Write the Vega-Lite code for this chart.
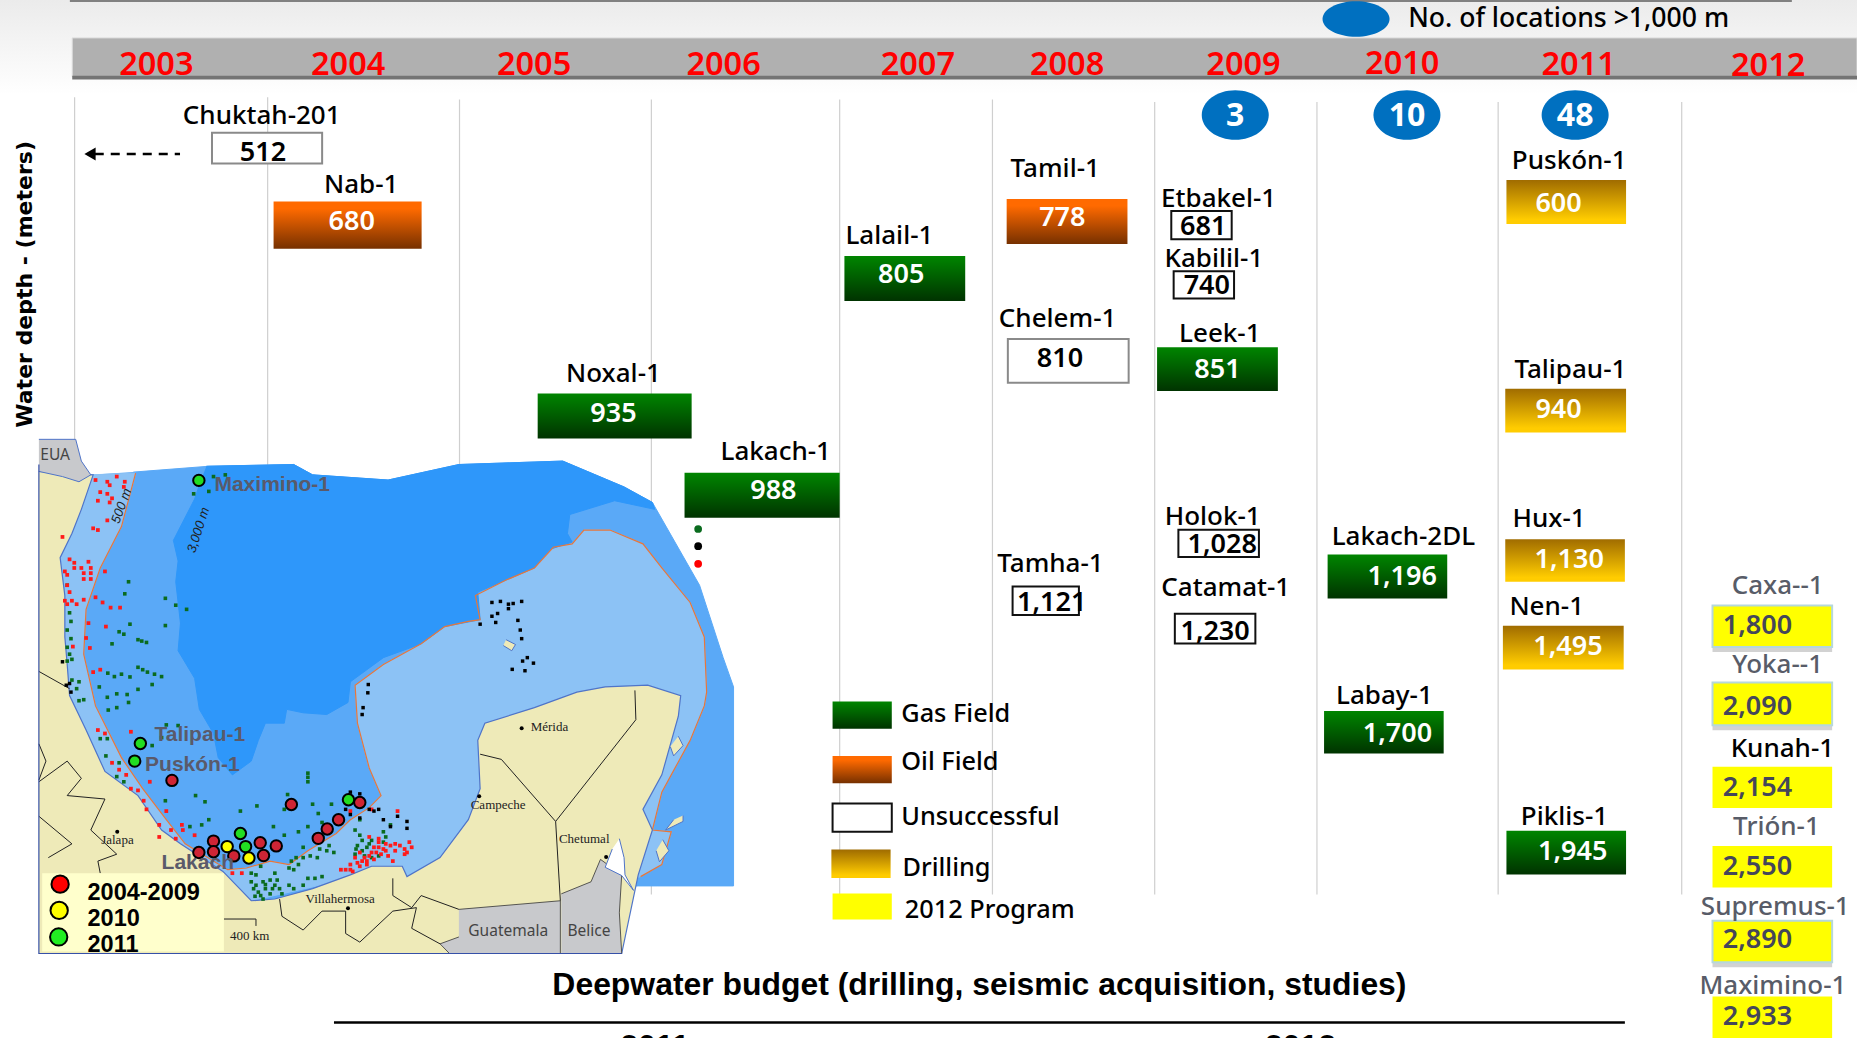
{"$schema":"https://vega.github.io/schema/vega-lite/v6.json","width":1857,"height":1038,"padding":0,"autosize":"none","background":"white","config":{"view":{"stroke":null}},
"datasets":{
"fade":[{"x":0,"x2":1568,"y":0,"y2":80}],
"band":[{"x":61,"x2":1568,"y":32,"y2":65}],
"bandEdge":[{"x":61,"x2":1568,"y":64,"y2":67}],
"topRule":[{"x":59,"x2":1513,"y":0.6}],
"grid":[{"x":63,"y":82,"y2":755},{"x":226,"y":82,"y2":755},{"x":388,"y":84,"y2":755},{"x":550,"y":84,"y2":755},{"x":709,"y":84,"y2":755},{"x":838,"y":84,"y2":755},{"x":975,"y":86,"y2":755},{"x":1112,"y":86,"y2":755},{"x":1265,"y":86,"y2":755},{"x":1420,"y":86,"y2":755}],
"years":[{"t":"2003","x":132,"y":54},{"t":"2004","x":294,"y":54},{"t":"2005","x":451,"y":54},{"t":"2006","x":611,"y":54},{"t":"2007","x":775,"y":54},{"t":"2008","x":901,"y":54},{"t":"2009","x":1050,"y":54},{"t":"2010","x":1184,"y":53},{"t":"2011","x":1333,"y":54},{"t":"2012","x":1493,"y":55}],
"wells":[
{"well":"Chuktah-201","value":"512","kind":"dryGrey","x":179,"x2":272,"y":112,"y2":138,"lx":221,"ly":97,"vx":222,"vy":128},
{"well":"Nab-1","value":"680","kind":"oil","x":231,"x2":356,"y":170,"y2":210,"lx":305,"ly":155,"vx":297,"vy":186},
{"well":"Noxal-1","value":"935","kind":"gas","x":454,"x2":584,"y":332,"y2":370,"lx":518,"ly":314,"vx":518,"vy":348},
{"well":"Lakach-1","value":"988","kind":"gas","x":578,"x2":709,"y":399,"y2":437,"lx":655,"ly":380,"vx":653,"vy":413},
{"well":"Lalail-1","value":"805","kind":"gas","x":713,"x2":815,"y":216,"y2":254,"lx":751,"ly":198,"vx":761,"vy":231},
{"well":"Tamil-1","value":"778","kind":"oil","x":850,"x2":952,"y":168,"y2":206,"lx":891,"ly":141,"vx":897,"vy":183},
{"well":"Chelem-1","value":"810","kind":"dryGrey","x":851,"x2":953,"y":286,"y2":323,"lx":893,"ly":268,"vx":895,"vy":302},
{"well":"Tamha-1","value":"1,121","kind":"dry","x":855,"x2":911,"y":495,"y2":519,"lx":887,"ly":475,"vx":888,"vy":508},
{"well":"Etbakel-1","value":"681","kind":"dry","x":989,"x2":1040,"y":178,"y2":202,"lx":1029,"ly":167,"vx":1016,"vy":190},
{"well":"Kabilil-1","value":"740","kind":"dry","x":991,"x2":1042,"y":229,"y2":252,"lx":1025,"ly":217,"vx":1019,"vy":240},
{"well":"Leek-1","value":"851","kind":"gas","x":977,"x2":1079,"y":293,"y2":330,"lx":1030,"ly":281,"vx":1028,"vy":311},
{"well":"Holok-1","value":"1,028","kind":"dry","x":995,"x2":1063,"y":447,"y2":470,"lx":1024,"ly":435,"vx":1032,"vy":459},
{"well":"Catamat-1","value":"1,230","kind":"dry","x":992,"x2":1060,"y":518,"y2":543,"lx":1035,"ly":495,"vx":1026,"vy":532},
{"well":"Lakach-2DL","value":"1,196","kind":"gas","x":1121,"x2":1222,"y":468,"y2":505,"lx":1185,"ly":452,"vx":1184,"vy":486},
{"well":"Labay-1","value":"1,700","kind":"gas","x":1118,"x2":1219,"y":600,"y2":636,"lx":1169,"ly":586,"vx":1180,"vy":618},
{"well":"Puskón-1","value":"600","kind":"drilling","x":1272,"x2":1373,"y":152,"y2":189,"lx":1325,"ly":135,"vx":1316,"vy":171},
{"well":"Talipau-1","value":"940","kind":"drilling","x":1271,"x2":1373,"y":328,"y2":365,"lx":1326,"ly":311,"vx":1316,"vy":345},
{"well":"Hux-1","value":"1,130","kind":"drilling","x":1271,"x2":1372,"y":455,"y2":491,"lx":1308,"ly":437,"vx":1325,"vy":471},
{"well":"Nen-1","value":"1,495","kind":"drilling","x":1269,"x2":1371,"y":528,"y2":565,"lx":1306,"ly":511,"vx":1324,"vy":545},
{"well":"Piklis-1","value":"1,945","kind":"gas","x":1272,"x2":1373,"y":701,"y2":738,"lx":1321,"ly":688,"vx":1328,"vy":718},
{"well":"Caxa--1","value":"1,800","kind":"program","x":1446,"x2":1547,"y":511,"y2":546,"lx":1501,"ly":493,"vx":1484,"vy":527},
{"well":"Yoka--1","value":"2,090","kind":"program","x":1446,"x2":1547,"y":576,"y2":612,"lx":1501,"ly":560,"vx":1484,"vy":595},
{"well":"Kunah-1","value":"2,154","kind":"program","x":1446,"x2":1547,"y":647,"y2":682,"lx":1505,"ly":631,"vx":1484,"vy":664},
{"well":"Trión-1","value":"2,550","kind":"program","x":1446,"x2":1547,"y":714,"y2":749,"lx":1500,"ly":697,"vx":1484,"vy":730},
{"well":"Supremus-1","value":"2,890","kind":"program","x":1446,"x2":1547,"y":777,"y2":812,"lx":1499,"ly":764,"vx":1484,"vy":792},
{"well":"Maximino-1","value":"2,933","kind":"program","x":1446,"x2":1547,"y":841,"y2":880,"lx":1497,"ly":831,"vx":1484,"vy":857}],
"badges":[{"n":"3","x":1043,"y":97},{"n":"10","x":1188,"y":97},{"n":"48","x":1330,"y":97}],
"legendKey":[{"kind":"gas","x":703,"x2":753,"y":592,"y2":615},{"kind":"oil","x":703,"x2":753,"y":638,"y2":661},{"kind":"dry","x":703,"x2":753,"y":678,"y2":702},{"kind":"drilling","x":702,"x2":752,"y":717,"y2":741},{"kind":"program","x":703,"x2":753,"y":754,"y2":776}],
"legendText":[{"t":"Gas Field","x":761,"y":601},{"t":"Oil Field","x":761,"y":642},{"t":"Unsuccessful","x":761,"y":688},{"t":"Drilling","x":762,"y":731},{"t":"2012 Program","x":764,"y":767}],
"keyNote":[{"t":"No. of locations >1,000 m","x":1189,"y":15}],
"arrow":[{"x":80,"y":130},{"x":152,"y":130}],
"arrowHead":[{"x":76,"y":130}],
"blueKey":[{"x":1145,"y":16}],
"budgetRule":[{"x":282,"x2":1372,"y":863}],
"budget":[{"t":"Deepwater budget (drilling, seismic acquisition, studies)","x":827,"y":830}],
"budgetYears":[{"t":"2011","x":553,"y":884},{"t":"2012","x":1098,"y":884}],
"yTitle":[{"t":"Water depth - (meters)","x":21,"y":240}],
"sea":[{"x":150,"y":130},{"x":130,"y":230},{"x":110,"y":300},{"x":85,"y":370},{"x":95,"y":480},{"x":95,"y":600},{"x":100,"y":680},{"x":105,"y":770},{"x":140,"y":870},{"x":180,"y":990},{"x":250,"y":1060},{"x":300,"y":1160},{"x":340,"y":1200},{"x":430,"y":1280},{"x":490,"y":1365},{"x":1310,"y":1322},{"x":1350,"y":1322},{"x":1512,"y":1322},{"x":1512,"y":745},{"x":1490,"y":660},{"x":1440,"y":450},{"x":1340,"y":210},{"x":1280,"y":165},{"x":1150,"y":90},{"x":930,"y":100},{"x":780,"y":145},{"x":620,"y":130},{"x":580,"y":100},{"x":400,"y":105},{"x":240,"y":122}],
"deep":[{"x":395,"y":105},{"x":580,"y":100},{"x":620,"y":130},{"x":780,"y":145},{"x":930,"y":100},{"x":1150,"y":90},{"x":1280,"y":165},{"x":1340,"y":210},{"x":1345,"y":230},{"x":1260,"y":205},{"x":1165,"y":245},{"x":1160,"y":300},{"x":1170,"y":325},{"x":1125,"y":345},{"x":1090,"y":400},{"x":1030,"y":435},{"x":970,"y":470},{"x":975,"y":550},{"x":900,"y":570},{"x":850,"y":620},{"x":770,"y":660},{"x":700,"y":730},{"x":695,"y":790},{"x":650,"y":825},{"x":600,"y":820},{"x":565,"y":810},{"x":560,"y":850},{"x":520,"y":850},{"x":505,"y":900},{"x":490,"y":960},{"x":450,"y":1000},{"x":420,"y":950},{"x":410,"y":880},{"x":380,"y":810},{"x":370,"y":720},{"x":335,"y":640},{"x":340,"y":560},{"x":330,"y":440},{"x":335,"y":380},{"x":325,"y":320},{"x":370,"y":200},{"x":385,"y":140}],
"shelf":[{"x":150,"y":130},{"x":245,"y":125},{"x":215,"y":280},{"x":170,"y":400},{"x":140,"y":520},{"x":135,"y":650},{"x":160,"y":800},{"x":215,"y":950},{"x":260,"y":1040},{"x":310,"y":1130},{"x":350,"y":1200},{"x":440,"y":1275},{"x":480,"y":1270},{"x":530,"y":1250},{"x":570,"y":1260},{"x":610,"y":1220},{"x":670,"y":1170},{"x":700,"y":1130},{"x":740,"y":1095},{"x":765,"y":1060},{"x":740,"y":980},{"x":715,"y":850},{"x":710,"y":740},{"x":770,"y":680},{"x":850,"y":620},{"x":900,"y":570},{"x":950,"y":555},{"x":975,"y":550},{"x":965,"y":480},{"x":1030,"y":435},{"x":1090,"y":400},{"x":1130,"y":340},{"x":1170,"y":330},{"x":1195,"y":290},{"x":1250,"y":290},{"x":1320,"y":330},{"x":1360,"y":400},{"x":1420,"y":500},{"x":1450,"y":600},{"x":1455,"y":760},{"x":1450,"y":800},{"x":1420,"y":900},{"x":1380,"y":1000},{"x":1360,"y":1050},{"x":1340,"y":1160},{"x":1380,"y":1165},{"x":1360,"y":1260},{"x":1315,"y":1295},{"x":1300,"y":1300},{"x":700,"y":1300},{"x":490,"y":1365},{"x":430,"y":1280},{"x":340,"y":1200},{"x":300,"y":1160},{"x":250,"y":1060},{"x":180,"y":990},{"x":140,"y":870},{"x":105,"y":770},{"x":100,"y":680},{"x":95,"y":600},{"x":95,"y":480},{"x":85,"y":370},{"x":110,"y":300},{"x":130,"y":230}],
"orange":[{"x":245,"y":125},{"x":215,"y":280},{"x":170,"y":400},{"x":140,"y":520},{"x":135,"y":650},{"x":160,"y":800},{"x":215,"y":950},{"x":260,"y":1040},{"x":310,"y":1130},{"x":350,"y":1200},{"x":440,"y":1275},{"x":480,"y":1270},{"x":530,"y":1250},{"x":570,"y":1260},{"x":610,"y":1220},{"x":670,"y":1170},{"x":700,"y":1130},{"x":740,"y":1095},{"x":765,"y":1060},{"x":740,"y":980},{"x":715,"y":850},{"x":710,"y":740},{"x":770,"y":680},{"x":850,"y":620},{"x":900,"y":570},{"x":950,"y":555},{"x":975,"y":550},{"x":965,"y":480},{"x":1030,"y":435},{"x":1090,"y":400},{"x":1130,"y":340},{"x":1170,"y":330},{"x":1195,"y":290},{"x":1250,"y":290},{"x":1320,"y":330},{"x":1360,"y":400},{"x":1420,"y":500},{"x":1450,"y":600},{"x":1455,"y":760},{"x":1450,"y":800},{"x":1420,"y":900},{"x":1380,"y":1000},{"x":1360,"y":1050},{"x":1340,"y":1160},{"x":1380,"y":1165},{"x":1360,"y":1260},{"x":1315,"y":1295}],
"land":[{"x":40,"y":120},{"x":155,"y":130},{"x":130,"y":230},{"x":110,"y":300},{"x":85,"y":370},{"x":95,"y":480},{"x":95,"y":600},{"x":100,"y":680},{"x":105,"y":770},{"x":140,"y":870},{"x":180,"y":990},{"x":250,"y":1060},{"x":300,"y":1160},{"x":340,"y":1200},{"x":430,"y":1280},{"x":490,"y":1365},{"x":540,"y":1360},{"x":620,"y":1330},{"x":700,"y":1290},{"x":745,"y":1265},{"x":810,"y":1265},{"x":820,"y":1295},{"x":890,"y":1240},{"x":950,"y":1130},{"x":975,"y":1040},{"x":970,"y":900},{"x":985,"y":850},{"x":1090,"y":805},{"x":1180,"y":760},{"x":1240,"y":745},{"x":1330,"y":740},{"x":1400,"y":770},{"x":1395,"y":830},{"x":1360,"y":1000},{"x":1320,"y":1100},{"x":1340,"y":1160},{"x":1310,"y":1290},{"x":1275,"y":1518},{"x":40,"y":1518}],
"usa":[{"x":40,"y":27},{"x":118,"y":27},{"x":130,"y":90},{"x":150,"y":130},{"x":125,"y":150},{"x":90,"y":135},{"x":40,"y":120}],
"guatemala":[{"x":930,"y":1390},{"x":1145,"y":1365},{"x":1145,"y":1518},{"x":910,"y":1518},{"x":890,"y":1490},{"x":930,"y":1470}],
"belice":[{"x":1147,"y":1345},{"x":1210,"y":1310},{"x":1230,"y":1245},{"x":1275,"y":1290},{"x":1270,"y":1400},{"x":1275,"y":1518},{"x":1147,"y":1518}],
"bay":[{"x":1270,"y":1185},{"x":1280,"y":1240},{"x":1282,"y":1290},{"x":1300,"y":1335},{"x":1275,"y":1292},{"x":1240,"y":1268},{"x":1255,"y":1215}],
"islands":[{"id":"a","x":1030,"y":608},{"id":"a","x":1050,"y":622},{"id":"a","x":1042,"y":640},{"id":"a","x":1024,"y":625},{"id":"b","x":1395,"y":888},{"id":"b","x":1405,"y":915},{"id":"b","x":1385,"y":945},{"id":"b","x":1378,"y":918},{"id":"c","x":1362,"y":1188},{"id":"c","x":1375,"y":1220},{"id":"c","x":1355,"y":1252},{"id":"c","x":1348,"y":1220},{"id":"d","x":1405,"y":1118},{"id":"d","x":1405,"y":1135},{"id":"d","x":1368,"y":1160},{"id":"d","x":1385,"y":1130}],
"borders":[{"id":"a","x":975,"y":940},{"id":"a","x":1020,"y":955},{"id":"a","x":1135,"y":1135},{"id":"a","x":1305,"y":840},{"id":"a","x":1303,"y":755},{"id":"b","x":1135,"y":1135},{"id":"b","x":1145,"y":1365},{"id":"c","x":550,"y":1360},{"id":"c","x":555,"y":1410},{"id":"c","x":600,"y":1450},{"id":"c","x":640,"y":1395},{"id":"c","x":690,"y":1395},{"id":"c","x":690,"y":1460},{"id":"c","x":720,"y":1485},{"id":"c","x":790,"y":1395},{"id":"c","x":840,"y":1385},{"id":"c","x":830,"y":1445},{"id":"c","x":890,"y":1490},{"id":"d","x":790,"y":1300},{"id":"d","x":790,"y":1350},{"id":"d","x":830,"y":1385},{"id":"d","x":850,"y":1350},{"id":"d","x":930,"y":1390},{"id":"e","x":40,"y":700},{"id":"e","x":105,"y":750},{"id":"f","x":40,"y":910},{"id":"f","x":55,"y":960},{"id":"f","x":40,"y":1015},{"id":"g","x":40,"y":1020},{"id":"g","x":100,"y":960},{"id":"g","x":130,"y":1010},{"id":"g","x":100,"y":1060},{"id":"g","x":180,"y":1070},{"id":"g","x":150,"y":1160},{"id":"g","x":205,"y":1230},{"id":"g","x":165,"y":1250},{"id":"g","x":170,"y":1285},{"id":"h","x":40,"y":1120},{"id":"h","x":110,"y":1200},{"id":"h","x":60,"y":1240},{"id":"i","x":432,"y":1418},{"id":"i","x":500,"y":1418},{"id":"i","x":500,"y":1438}],
"mapFrame":[{"x":40,"y":100},{"x":40,"y":1518},{"x":1275,"y":1518}],
"keyBox":[{"x":47,"x2":432,"y":1285,"y2":1512}],
"gasDots":[{"x":230,"y":440},{"x":222,"y":475},{"x":308,"y":488},{"x":330,"y":508},{"x":353,"y":520},{"x":210,"y":585},{"x":220,"y":592},{"x":233,"y":563},{"x":308,"y":567},{"x":250,"y":608},{"x":258,"y":612},{"x":268,"y":616},{"x":195,"y":620},{"x":250,"y":688},{"x":260,"y":695},{"x":270,"y":702},{"x":285,"y":708},{"x":300,"y":715},{"x":215,"y":708},{"x":200,"y":715},{"x":233,"y":716},{"x":186,"y":705},{"x":168,"y":745},{"x":185,"y":775},{"x":205,"y":765},{"x":227,"y":767},{"x":205,"y":805},{"x":187,"y":812},{"x":230,"y":790},{"x":280,"y":738},{"x":250,"y":752},{"x":100,"y":450},{"x":105,"y":530},{"x":108,"y":555},{"x":100,"y":580},{"x":108,"y":605},{"x":100,"y":630},{"x":105,"y":650},{"x":110,"y":665},{"x":100,"y":670},{"x":110,"y":725},{"x":125,"y":730},{"x":120,"y":750},{"x":125,"y":785},{"x":135,"y":782},{"x":170,"y":895},{"x":185,"y":895},{"x":280,"y":915},{"x":300,"y":892},{"x":310,"y":855},{"x":335,"y":857},{"x":410,"y":135},{"x":435,"y":130},{"x":400,"y":178},{"x":368,"y":185},{"x":610,"y":995},{"x":610,"y":1007},{"x":610,"y":1020},{"x":372,"y":1060},{"x":392,"y":1078},{"x":308,"y":1075},{"x":502,"y":1090},{"x":467,"y":1105},{"x":567,"y":1057},{"x":620,"y":1085},{"x":632,"y":1112},{"x":660,"y":1085},{"x":537,"y":1150},{"x":360,"y":1150},{"x":385,"y":1145},{"x":400,"y":1130},{"x":210,"y":965},{"x":205,"y":1005},{"x":220,"y":1020},{"x":182,"y":945},{"x":560,"y":1100},{"x":590,"y":1165},{"x":560,"y":1175},{"x":640,"y":1138},{"x":610,"y":1150},{"x":500,"y":1290},{"x":520,"y":1330},{"x":510,"y":1350},{"x":540,"y":1320},{"x":490,"y":1310},{"x":530,"y":1345},{"x":550,"y":1330},{"x":500,"y":1320},{"x":515,"y":1310},{"x":580,"y":1330},{"x":600,"y":1320},{"x":625,"y":1300},{"x":580,"y":1275},{"x":575,"y":1250},{"x":600,"y":1240},{"x":630,"y":1240},{"x":650,"y":1220},{"x":665,"y":1225},{"x":600,"y":1210},{"x":540,"y":1285},{"x":720,"y":1130},{"x":710,"y":1160},{"x":720,"y":1175},{"x":715,"y":1205},{"x":740,"y":1200},{"x":730,"y":1235},{"x":710,"y":1230},{"x":770,"y":1165},{"x":785,"y":1145},{"x":770,"y":1195},{"x":745,"y":1190},{"x":510,"y":1265},{"x":490,"y":1285},{"x":635,"y":1215},{"x":590,"y":1260},{"x":495,"y":1330},{"x":505,"y":1340},{"x":520,"y":1318},{"x":530,"y":1305},{"x":545,"y":1305},{"x":555,"y":1345},{"x":515,"y":1360},{"x":498,"y":1352},{"x":535,"y":1330},{"x":570,"y":1320},{"x":610,"y":1300},{"x":640,"y":1295},{"x":615,"y":1235},{"x":585,"y":1240},{"x":570,"y":1270},{"x":655,"y":1205},{"x":725,"y":1220},{"x":735,"y":1210},{"x":745,"y":1240},{"x":712,"y":1215},{"x":760,"y":1235},{"x":725,"y":1190},{"x":775,"y":1180}],
"oilDots":[{"x":160,"y":145},{"x":185,"y":150},{"x":205,"y":135},{"x":222,"y":150},{"x":190,"y":160},{"x":170,"y":180},{"x":185,"y":185},{"x":195,"y":198},{"x":165,"y":205},{"x":190,"y":210},{"x":220,"y":165},{"x":185,"y":262},{"x":155,"y":285},{"x":165,"y":290},{"x":90,"y":310},{"x":105,"y":375},{"x":115,"y":385},{"x":145,"y":382},{"x":95,"y":410},{"x":115,"y":400},{"x":130,"y":400},{"x":150,"y":400},{"x":135,"y":415},{"x":150,"y":415},{"x":100,"y":420},{"x":135,"y":432},{"x":150,"y":432},{"x":180,"y":410},{"x":100,"y":450},{"x":105,"y":470},{"x":95,"y":495},{"x":110,"y":495},{"x":135,"y":492},{"x":100,"y":505},{"x":120,"y":505},{"x":160,"y":485},{"x":175,"y":500},{"x":192,"y":515},{"x":212,"y":515},{"x":145,"y":560},{"x":182,"y":570},{"x":140,"y":603},{"x":148,"y":632},{"x":112,"y":628},{"x":155,"y":702},{"x":170,"y":695},{"x":165,"y":870},{"x":180,"y":880},{"x":235,"y":875},{"x":195,"y":965},{"x":210,"y":985},{"x":225,"y":1000},{"x":235,"y":1040},{"x":250,"y":1045},{"x":275,"y":1020},{"x":262,"y":1075},{"x":268,"y":1100},{"x":310,"y":1105},{"x":295,"y":1145},{"x":320,"y":1160},{"x":295,"y":1180},{"x":343,"y":1145},{"x":345,"y":1160},{"x":370,"y":1175},{"x":330,"y":1185},{"x":450,"y":1285},{"x":470,"y":1285},{"x":680,"y":1275},{"x":700,"y":1260},{"x":710,"y":1240},{"x":730,"y":1240},{"x":745,"y":1225},{"x":760,"y":1210},{"x":775,"y":1200},{"x":795,"y":1220},{"x":815,"y":1215},{"x":825,"y":1195},{"x":740,"y":1180},{"x":760,"y":1185},{"x":780,"y":1235},{"x":800,"y":1105},{"x":720,"y":1265},{"x":735,"y":1260},{"x":750,"y":1245},{"x":770,"y":1215},{"x":720,"y":1225},{"x":830,"y":1210},{"x":790,"y":1250},{"x":690,"y":1275},{"x":705,"y":1280},{"x":815,"y":1230},{"x":745,"y":1100},{"x":700,"y":1105},{"x":755,"y":1225},{"x":765,"y":1230},{"x":775,"y":1220},{"x":785,"y":1205},{"x":805,"y":1205},{"x":735,"y":1250},{"x":715,"y":1255},{"x":760,"y":1195},{"x":750,"y":1210},{"x":740,"y":1235},{"x":725,"y":1250},{"x":700,"y":1275},{"x":795,"y":1200},{"x":820,"y":1225}],
"dryDots":[{"x":1000,"y":500},{"x":1018,"y":497},{"x":1035,"y":505},{"x":1063,"y":497},{"x":1045,"y":503},{"x":1035,"y":518},{"x":1000,"y":540},{"x":1012,"y":532},{"x":1055,"y":552},{"x":1008,"y":558},{"x":1060,"y":580},{"x":975,"y":563},{"x":1063,"y":605},{"x":1075,"y":660},{"x":1065,"y":670},{"x":1088,"y":676},{"x":1043,"y":694},{"x":1070,"y":698},{"x":738,"y":738},{"x":737,"y":762},{"x":727,"y":805},{"x":725,"y":825},{"x":700,"y":1050},{"x":720,"y":1055},{"x":690,"y":1100},{"x":720,"y":1125},{"x":750,"y":1105},{"x":770,"y":1130},{"x":800,"y":1120},{"x":820,"y":1135},{"x":785,"y":1150},{"x":820,"y":1155},{"x":105,"y":735},{"x":90,"y":672},{"x":108,"y":760},{"x":98,"y":740},{"x":715,"y":1070},{"x":740,"y":1100},{"x":760,"y":1100},{"x":700,"y":1115}],
"bigRed":[{"x":322,"y":1016},{"x":575,"y":1086},{"x":720,"y":1080},{"x":675,"y":1130},{"x":651,"y":1157},{"x":632,"y":1184},{"x":410,"y":1192},{"x":509,"y":1197},{"x":543,"y":1206},{"x":379,"y":1225},{"x":410,"y":1223},{"x":453,"y":1235},{"x":516,"y":1234}],
"bigYellow":[{"x":439,"y":1208},{"x":485,"y":1241}],
"bigGreen":[{"x":379,"y":146},{"x":255,"y":909},{"x":243,"y":960},{"x":467,"y":1170},{"x":478,"y":1208},{"x":696,"y":1072}],
"keyRed":[{"x":85,"y":1317}],"keyYellow":[{"x":83,"y":1393}],"keyGreen":[{"x":82,"y":1470}],
"smallGreen":[{"x":1437,"y":287}],"smallBlack":[{"x":1437,"y":337}],"smallRed":[{"x":1437,"y":388}],
"cities":[{"x":1063,"y":865},{"x":973,"y":1062},{"x":1242,"y":1238},{"x":206,"y":1165},{"x":695,"y":1387}],
"cityNames":[{"t":"Mérida","x":1082,"y":860},{"t":"Campeche","x":955,"y":1088},{"t":"Chetumal","x":1142,"y":1185},{"t":"Jalapa","x":172,"y":1188},{"t":"Villahermosa","x":605,"y":1360},{"t":"400 km","x":445,"y":1466}],
"countries":[{"t":"Guatemala","x":950,"y":1452},{"t":"Belice","x":1160,"y":1452},{"t":"EUA","x":43,"y":72}],
"mapWells":[{"t":"Maximino-1","x":412,"y":160},{"t":"Talipau-1","x":285,"y":885},{"t":"Puskón-1","x":265,"y":970},{"t":"Lakach","x":300,"y":1255}],
"keyText":[{"t":"2004-2009","x":143,"y":1342},{"t":"2010","x":143,"y":1417},{"t":"2011","x":143,"y":1493}],
"iso500":[{"t":"500 m","x":215,"y":220}],"iso3000":[{"t":"3,000 m","x":378,"y":290}]
},
"resolve":{"scale":{"x":"independent","y":"independent"}},
"layer":[
{"encoding":{"x":{"field":"x","type":"quantitative","axis":null,"scale":{"domain":[0,1568],"range":[0,1857],"nice":false,"zero":false}},"y":{"field":"y","type":"quantitative","axis":null,"scale":{"domain":[0,876],"range":[0,1038],"nice":false,"zero":false}}},
"layer":[
{"data":{"name":"fade"},"mark":{"type":"rect","fill":{"gradient":"linear","x1":0,"y1":0,"x2":0,"y2":1,"stops":[{"offset":0,"color":"#ebebeb"},{"offset":1,"color":"#ffffff"}]}},"encoding":{"x2":{"field":"x2"},"y2":{"field":"y2"}}},
{"data":{"name":"topRule"},"mark":{"type":"rule","color":"#808080","strokeWidth":2.5},"encoding":{"x2":{"field":"x2"}}},
{"data":{"name":"band"},"mark":{"type":"rect","fill":"#b0b0b0","stroke":"#dcdcdc","strokeWidth":1},"encoding":{"x2":{"field":"x2"},"y2":{"field":"y2"}}},
{"data":{"name":"bandEdge"},"mark":{"type":"rect","fill":"#747474"},"encoding":{"x2":{"field":"x2"},"y2":{"field":"y2"}}},
{"data":{"name":"grid"},"mark":{"type":"rule","color":"#cfcfcf","strokeWidth":1.2},"encoding":{"y2":{"field":"y2"}}}
]},
{"encoding":{"x":{"field":"x","type":"quantitative","axis":null,"scale":{"domain":[-42.4,3892.6],"range":[0,1857],"nice":false,"zero":false}},"y":{"field":"y","type":"quantitative","axis":null,"scale":{"domain":[-1247,1763],"range":[0,1038],"nice":false,"zero":false}}},
"layer":[
{"data":{"name":"sea"},"mark":{"type":"line","order":false,"fill":"#5aa9f7","stroke":"#5aa9f7","strokeWidth":1}},
{"data":{"name":"shelf"},"mark":{"type":"line","order":false,"fill":"#8cc2f5","stroke":"#8cc2f5","strokeWidth":1}},
{"data":{"name":"deep"},"mark":{"type":"line","order":false,"fill":"#2e97fa","stroke":"#2e97fa","strokeWidth":1}},
{"data":{"name":"orange"},"mark":{"type":"line","order":false,"stroke":"#e8763a","strokeWidth":1.2}},
{"data":{"name":"land"},"mark":{"type":"line","order":false,"fill":"#eeeab8","stroke":"#4f74c8","strokeWidth":1.2}},
{"data":{"name":"islands"},"mark":{"type":"line","order":false,"fill":"#eeeab8","stroke":"#4f74c8","strokeWidth":1},"encoding":{"detail":{"field":"id"}}},
{"data":{"name":"usa"},"mark":{"type":"line","order":false,"fill":"#c8c9cc","stroke":"#4f74c8","strokeWidth":1}},
{"data":{"name":"guatemala"},"mark":{"type":"line","order":false,"fill":"#c8c9cc","stroke":"#333333","strokeWidth":0.8}},
{"data":{"name":"belice"},"mark":{"type":"line","order":false,"fill":"#c8c9cc","stroke":"#333333","strokeWidth":0.8}},
{"data":{"name":"bay"},"mark":{"type":"line","order":false,"fill":"#ffffff","stroke":"#4f74c8","strokeWidth":1}},
{"data":{"name":"borders"},"mark":{"type":"line","order":false,"stroke":"#222222","strokeWidth":1},"encoding":{"detail":{"field":"id"}}},
{"data":{"name":"mapFrame"},"mark":{"type":"line","order":false,"stroke":"#3650a8","strokeWidth":1.2}},
{"data":{"name":"gasDots"},"mark":{"type":"square","color":"#0a6b1e","size":13,"opacity":1}},
{"data":{"name":"oilDots"},"mark":{"type":"square","color":"#ff1a1a","size":14,"opacity":1}},
{"data":{"name":"dryDots"},"mark":{"type":"square","color":"#000000","size":12,"opacity":1}},
{"data":{"name":"cities"},"mark":{"type":"circle","color":"#000000","size":16,"opacity":1}},
{"data":{"name":"cityNames"},"mark":{"type":"text","font":"Liberation Serif","fontSize":13,"align":"left","baseline":"middle","color":"#222222"},"encoding":{"text":{"field":"t"}}},
{"data":{"name":"countries"},"mark":{"type":"text","font":"Noto Sans","fontSize":15.5,"align":"left","baseline":"middle","color":"#444444"},"encoding":{"text":{"field":"t"}}},
{"data":{"name":"iso500"},"mark":{"type":"text","font":"Liberation Sans","fontStyle":"italic","fontSize":13,"angle":290,"align":"center","baseline":"middle","color":"#222222"},"encoding":{"text":{"field":"t"}}},
{"data":{"name":"iso3000"},"mark":{"type":"text","font":"Liberation Sans","fontStyle":"italic","fontSize":13,"angle":288,"align":"center","baseline":"middle","color":"#222222"},"encoding":{"text":{"field":"t"}}},
{"data":{"name":"bigRed"},"mark":{"type":"circle","size":130,"fill":"#cf2535","stroke":"#000000","strokeWidth":2,"opacity":1}},
{"data":{"name":"bigYellow"},"mark":{"type":"circle","size":130,"fill":"#ffff00","stroke":"#000000","strokeWidth":2,"opacity":1}},
{"data":{"name":"bigGreen"},"mark":{"type":"circle","size":130,"fill":"#22dd22","stroke":"#000000","strokeWidth":2,"opacity":1}},
{"data":{"name":"mapWells"},"mark":{"type":"text","font":"Liberation Sans","fontWeight":"bold","fontSize":21,"align":"left","baseline":"middle","color":"#5a5a6a"},"encoding":{"text":{"field":"t"}}},
{"data":{"name":"keyBox"},"mark":{"type":"rect","fill":"#ffffcc"},"encoding":{"x2":{"field":"x2"},"y2":{"field":"y2"}}},
{"data":{"name":"keyRed"},"mark":{"type":"circle","size":300,"fill":"#ff0000","stroke":"#000000","strokeWidth":2,"opacity":1}},
{"data":{"name":"keyYellow"},"mark":{"type":"circle","size":300,"fill":"#ffff00","stroke":"#000000","strokeWidth":2,"opacity":1}},
{"data":{"name":"keyGreen"},"mark":{"type":"circle","size":300,"fill":"#22ee22","stroke":"#000000","strokeWidth":2,"opacity":1}},
{"data":{"name":"keyText"},"mark":{"type":"text","font":"Liberation Sans","fontWeight":"bold","fontSize":23.5,"align":"left","baseline":"middle","color":"#000000"},"encoding":{"text":{"field":"t"}}},
{"data":{"name":"smallGreen"},"mark":{"type":"circle","size":60,"color":"#0a6b1e","opacity":1}},
{"data":{"name":"smallBlack"},"mark":{"type":"circle","size":60,"color":"#000000","opacity":1}},
{"data":{"name":"smallRed"},"mark":{"type":"circle","size":60,"color":"#ff0000","opacity":1}}
]},
{"encoding":{"x":{"field":"x","type":"quantitative","axis":null,"scale":{"domain":[0,1568],"range":[0,1857],"nice":false,"zero":false}},"y":{"field":"y","type":"quantitative","axis":null,"scale":{"domain":[0,876],"range":[0,1038],"nice":false,"zero":false}}},
"layer":[
{"data":{"name":"years"},"mark":{"type":"text","font":"Noto Sans","fontWeight":600,"fontSize":32.5,"dy":1,"align":"center","baseline":"middle","color":"#ff0000"},"encoding":{"text":{"field":"t"}}},
{"data":{"name":"blueKey"},"mark":{"type":"point","filled":true,"opacity":1,"color":"#0070c0","size":4489,"shape":"M-1,0A1,0.53 0 1,1 1,0A1,0.53 0 1,1 -1,0Z"}},
{"data":{"name":"badges"},"mark":{"type":"point","filled":true,"opacity":1,"color":"#0070c0","size":4489,"shape":"M-1,0A1,0.74 0 1,1 1,0A1,0.74 0 1,1 -1,0Z"}},
{"data":{"name":"badges"},"mark":{"type":"text","font":"Noto Sans","fontWeight":700,"fontSize":32,"dy":1,"align":"center","baseline":"middle","color":"#ffffff"},"encoding":{"text":{"field":"n"}}},
{"data":{"name":"arrow"},"mark":{"type":"line","order":false,"stroke":"#000000","strokeWidth":2.5,"strokeDash":[9,7]}},
{"data":{"name":"arrowHead"},"mark":{"type":"point","shape":"triangle-left","filled":true,"opacity":1,"color":"#000000","size":170}},
{"data":{"name":"wells"},"transform":[{"filter":"indexof(['Caxa--1','Yoka--1','Supremus-1'],datum.well)>=0"}],"mark":{"type":"rect","fill":"#b4b4b4","opacity":0.6,"yOffset":5,"y2Offset":5},"encoding":{"x2":{"field":"x2"},"y2":{"field":"y2"}}},
{"data":{"name":"wells"},"transform":[{"filter":"datum.kind==='gas'"}],"mark":{"type":"rect","fill":{"gradient":"linear","x1":0,"y1":0,"x2":0,"y2":1,"stops":[{"offset":0,"color":"#008500"},{"offset":1,"color":"#003300"}]}},"encoding":{"x2":{"field":"x2"},"y2":{"field":"y2"}}},
{"data":{"name":"wells"},"transform":[{"filter":"datum.kind==='oil'"}],"mark":{"type":"rect","fill":{"gradient":"linear","x1":0,"y1":0,"x2":0,"y2":1,"stops":[{"offset":0.15,"color":"#ff6a00"},{"offset":1,"color":"#763000"}]}},"encoding":{"x2":{"field":"x2"},"y2":{"field":"y2"}}},
{"data":{"name":"wells"},"transform":[{"filter":"datum.kind==='drilling'"}],"mark":{"type":"rect","fill":{"gradient":"linear","x1":0,"y1":0,"x2":0,"y2":1,"stops":[{"offset":0,"color":"#a06c00"},{"offset":0.9,"color":"#ffcc00"}]}},"encoding":{"x2":{"field":"x2"},"y2":{"field":"y2"}}},
{"data":{"name":"wells"},"transform":[{"filter":"datum.kind==='program'"}],"mark":{"type":"rect","fill":"#ffff00"},"encoding":{"x2":{"field":"x2"},"y2":{"field":"y2"}}},
{"data":{"name":"wells"},"transform":[{"filter":"indexof(['Caxa--1','Yoka--1','Supremus-1'],datum.well)>=0"}],"mark":{"type":"rect","fillOpacity":0,"stroke":"#b5d8dc","strokeWidth":2},"encoding":{"x2":{"field":"x2"},"y2":{"field":"y2"}}},
{"data":{"name":"wells"},"transform":[{"filter":"datum.kind==='dry'"}],"mark":{"type":"rect","fill":"#ffffff","fillOpacity":0,"stroke":"#111111","strokeWidth":2},"encoding":{"x2":{"field":"x2"},"y2":{"field":"y2"}}},
{"data":{"name":"wells"},"transform":[{"filter":"datum.kind==='dryGrey'"}],"mark":{"type":"rect","fill":"#ffffff","stroke":"#8a8a8a","strokeWidth":2},"encoding":{"x2":{"field":"x2"},"y2":{"field":"y2"}}},
{"data":{"name":"legendKey"},"transform":[{"filter":"datum.kind==='gas'"}],"mark":{"type":"rect","fill":{"gradient":"linear","x1":0,"y1":0,"x2":0,"y2":1,"stops":[{"offset":0,"color":"#008500"},{"offset":1,"color":"#003300"}]}},"encoding":{"x2":{"field":"x2"},"y2":{"field":"y2"}}},
{"data":{"name":"legendKey"},"transform":[{"filter":"datum.kind==='oil'"}],"mark":{"type":"rect","fill":{"gradient":"linear","x1":0,"y1":0,"x2":0,"y2":1,"stops":[{"offset":0.15,"color":"#ff6a00"},{"offset":1,"color":"#763000"}]}},"encoding":{"x2":{"field":"x2"},"y2":{"field":"y2"}}},
{"data":{"name":"legendKey"},"transform":[{"filter":"datum.kind==='dry'"}],"mark":{"type":"rect","fill":"#ffffff","stroke":"#111111","strokeWidth":2},"encoding":{"x2":{"field":"x2"},"y2":{"field":"y2"}}},
{"data":{"name":"legendKey"},"transform":[{"filter":"datum.kind==='drilling'"}],"mark":{"type":"rect","fill":{"gradient":"linear","x1":0,"y1":0,"x2":0,"y2":1,"stops":[{"offset":0,"color":"#a06c00"},{"offset":0.9,"color":"#ffcc00"}]}},"encoding":{"x2":{"field":"x2"},"y2":{"field":"y2"}}},
{"data":{"name":"legendKey"},"transform":[{"filter":"datum.kind==='program'"}],"mark":{"type":"rect","fill":"#ffff00"},"encoding":{"x2":{"field":"x2"},"y2":{"field":"y2"}}},
{"data":{"name":"wells"},"mark":{"type":"text","font":"Noto Sans","fontWeight":500,"fontSize":26,"dy":1.5,"align":"center","baseline":"middle"},"encoding":{"x":{"field":"lx","type":"quantitative","axis":null},"y":{"field":"ly","type":"quantitative","axis":null},"text":{"field":"well"},"color":{"condition":{"test":"indexof(['Caxa--1','Yoka--1','Trión-1','Supremus-1','Maximino-1'],datum.well)>=0","value":"#585c68"},"value":"#000000"}}},
{"data":{"name":"wells"},"mark":{"type":"text","font":"Noto Sans","fontWeight":600,"fontSize":27,"dy":1.5,"align":"center","baseline":"middle"},"encoding":{"x":{"field":"vx","type":"quantitative","axis":null},"y":{"field":"vy","type":"quantitative","axis":null},"text":{"field":"value"},"color":{"condition":[{"test":"datum.kind==='dry'||datum.kind==='dryGrey'","value":"#000000"},{"test":"datum.kind==='program'","value":"#44465a"}],"value":"#ffffff"}}},
{"data":{"name":"legendText"},"mark":{"type":"text","font":"Noto Sans","fontWeight":500,"fontSize":25.3,"dy":1.5,"align":"left","baseline":"middle","color":"#000000"},"encoding":{"text":{"field":"t"}}},
{"data":{"name":"keyNote"},"mark":{"type":"text","font":"Noto Sans","fontWeight":500,"fontSize":26.6,"dy":1.5,"align":"left","baseline":"middle","color":"#000000"},"encoding":{"text":{"field":"t"}}},
{"data":{"name":"budget"},"mark":{"type":"text","font":"Liberation Sans","fontWeight":"bold","fontSize":31.9,"dy":2,"align":"center","baseline":"middle","color":"#000000"},"encoding":{"text":{"field":"t"}}},
{"data":{"name":"budgetRule"},"mark":{"type":"rule","color":"#000000","strokeWidth":2.5},"encoding":{"x2":{"field":"x2"}}},
{"data":{"name":"budgetYears"},"mark":{"type":"text","font":"Liberation Sans","fontWeight":"bold","fontSize":32,"align":"center","baseline":"middle","color":"#000000"},"encoding":{"text":{"field":"t"}}},
{"data":{"name":"yTitle"},"mark":{"type":"text","font":"DejaVu Sans","fontWeight":"bold","fontSize":22,"angle":270,"align":"center","baseline":"middle","color":"#000000"},"encoding":{"text":{"field":"t"}}}
]}
]}
